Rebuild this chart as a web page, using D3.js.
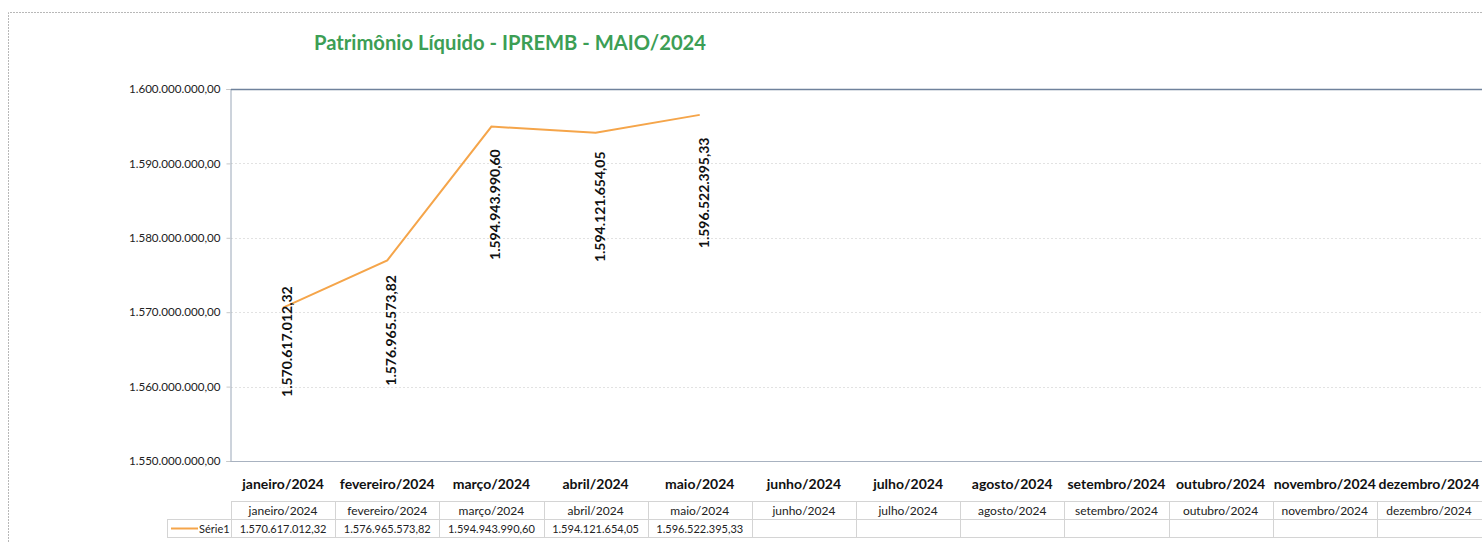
<!DOCTYPE html>
<html>
<head>
<meta charset="utf-8">
<script src="https://cdn.jsdelivr.net/npm/d3@7"></script>
<style>
  body { margin: 0; background: #fff; }
  text { font-family: Lato, "Open Sans", sans-serif; }
</style>
</head>
<body>
<div id="chart"></div>
<script>
/////////////////////////////////////////////////
/* Data */
/////////////////////////////////////////////////
const months = ["janeiro/2024", "fevereiro/2024", "março/2024", "abril/2024", "maio/2024",
  "junho/2024", "julho/2024", "agosto/2024", "setembro/2024", "outubro/2024",
  "novembro/2024", "dezembro/2024"];
const values = [1570617012.32, 1576965573.82, 1594943990.60, 1594121654.05, 1596522395.33];
const valueLabels = ["1.570.617.012,32", "1.576.965.573,82", "1.594.943.990,60", "1.594.121.654,05", "1.596.522.395,33"];
const yTicks = [1550000000, 1560000000, 1570000000, 1580000000, 1590000000, 1600000000];
const seriesName = "Série1";
const title = "Patrimônio Líquido - IPREMB - MAIO/2024";

// label nudges (the first label was moved by hand in the original)
const labelShift = [34, 70, 78, 74, 78];

/////////////////////////////////////////////////
/* Layout */
/////////////////////////////////////////////////
const W = 1482, H = 542;
const plot = {left: 231, right: 1481, top: 89, bottom: 461};
const lineColor = "#f5a54a";

const svg = d3.select("#chart").append("svg")
  .attr("width", W).attr("height", H);

// outer chart border (dotted grey)
svg.append("path")
  .attr("d", `M 8.5 ${H} L 8.5 12.5 L ${W} 12.5`)
  .attr("fill", "none").attr("stroke", "#b8b8b8")
  .attr("stroke-dasharray", "2,1");

// title
svg.append("text")
  .attr("x", 510).attr("y", 50)
  .attr("text-anchor", "middle")
  .attr("font-size", 20.2).attr("font-weight", "bold")
  .attr("fill", "#3c9e55")
  .text(title);

// scales
const x = d3.scaleBand().domain(months).range([plot.left, plot.right]);
const y = d3.scaleLinear().domain([1550000000, 1600000000]).range([plot.bottom, plot.top]);

const fmt = v => d3.format(",.2f")(v).replace(/,/g, "#").replace(".", ",").replace(/#/g, ".");

// gridlines
svg.append("g").selectAll("line")
  .data(yTicks.filter(t => t > 1550000000 && t < 1600000000))
  .join("line")
  .attr("x1", plot.left).attr("x2", W)
  .attr("y1", d => Math.round(y(d)) + 0.5).attr("y2", d => Math.round(y(d)) + 0.5)
  .attr("stroke", "#e2e2e2").attr("stroke-dasharray", "2,2");

// y axis
const yAxis = svg.append("g")
  .attr("transform", `translate(${plot.left - 0.5},0)`)
  .call(d3.axisLeft(y).tickValues(yTicks).tickFormat(fmt).tickSize(4).tickPadding(6));
yAxis.select(".domain").attr("stroke", "#9aa7b8");
yAxis.selectAll(".tick line").attr("stroke", "#c8c8c8");
yAxis.selectAll(".tick text").attr("font-size", 11.6).attr("fill", "#222")
  .attr("font-family", "Lato, sans-serif");

// top border of plot area
svg.append("line")
  .attr("x1", plot.left).attr("x2", W)
  .attr("y1", plot.top + 0.5).attr("y2", plot.top + 0.5)
  .attr("stroke", "#6f829c").attr("stroke-width", 1.3);

// bottom axis
const xAxis = svg.append("g")
  .attr("transform", `translate(0,${plot.bottom + 0.5})`)
  .call(d3.axisBottom(x).tickSize(0).tickPadding(18));
xAxis.select(".domain").attr("stroke", "#a8b2c0").attr("d", `M${plot.left},0H${W}`);
xAxis.selectAll(".tick text").attr("font-size", 14).attr("font-weight", "bold")
  .attr("fill", "#111").attr("font-family", "Lato, sans-serif");

// line
const pts = values.map((v, i) => ({m: months[i], v: v, label: valueLabels[i], shift: labelShift[i]}));
svg.append("path")
  .datum(pts)
  .attr("fill", "none").attr("stroke", lineColor).attr("stroke-width", 2)
  .attr("d", d3.line().x(d => x(d.m) + x.bandwidth() / 2).y(d => y(d.v)));

// data labels, rotated
svg.append("g").selectAll("text")
  .data(pts)
  .join("text")
  .attr("transform", d => `translate(${x(d.m) + x.bandwidth() / 2 + 9},${y(d.v) + d.shift}) rotate(-90)`)
  .attr("text-anchor", "middle")
  .attr("font-size", 14).attr("font-weight", "bold").attr("fill", "#111")
  .text(d => d.label);

// data table
const tTop = 501.5, tMid = 519.5, tBot = 537.5;
const table = svg.append("g");
table.append("line").attr("x1", plot.left).attr("x2", W).attr("y1", tTop).attr("y2", tTop)
  .attr("stroke", "#d4d4d4");
table.append("line").attr("x1", 167).attr("x2", W).attr("y1", tMid).attr("y2", tMid)
  .attr("stroke", "#d4d4d4");
table.append("line").attr("x1", 167).attr("x2", W).attr("y1", tBot).attr("y2", tBot)
  .attr("stroke", "#d4d4d4");
table.append("line").attr("x1", 167.5).attr("x2", 167.5).attr("y1", tMid).attr("y2", tBot)
  .attr("stroke", "#d4d4d4");
table.selectAll(".vline")
  .data(months)
  .join("line")
  .attr("class", "vline")
  .attr("x1", d => Math.round(x(d)) + 0.5).attr("x2", d => Math.round(x(d)) + 0.5)
  .attr("y1", tTop).attr("y2", tBot)
  .attr("stroke", "#d4d4d4");

table.selectAll(".hdr")
  .data(months)
  .join("text")
  .attr("class", "hdr")
  .attr("x", d => x(d) + x.bandwidth() / 2).attr("y", 515)
  .attr("text-anchor", "middle").attr("font-size", 12).attr("fill", "#222")
  .text(d => d);

table.selectAll(".val")
  .data(pts)
  .join("text")
  .attr("class", "val")
  .attr("x", d => x(d.m) + x.bandwidth() / 2).attr("y", 533)
  .attr("text-anchor", "middle").attr("font-size", 11).attr("fill", "#222")
  .text(d => d.label);

// legend key
table.append("line")
  .attr("x1", 171).attr("x2", 198).attr("y1", 528.5).attr("y2", 528.5)
  .attr("stroke", lineColor).attr("stroke-width", 2);
table.append("text")
  .attr("x", 199).attr("y", 533)
  .attr("font-size", 11).attr("fill", "#222")
  .text(seriesName);
</script>
</body>
</html>
